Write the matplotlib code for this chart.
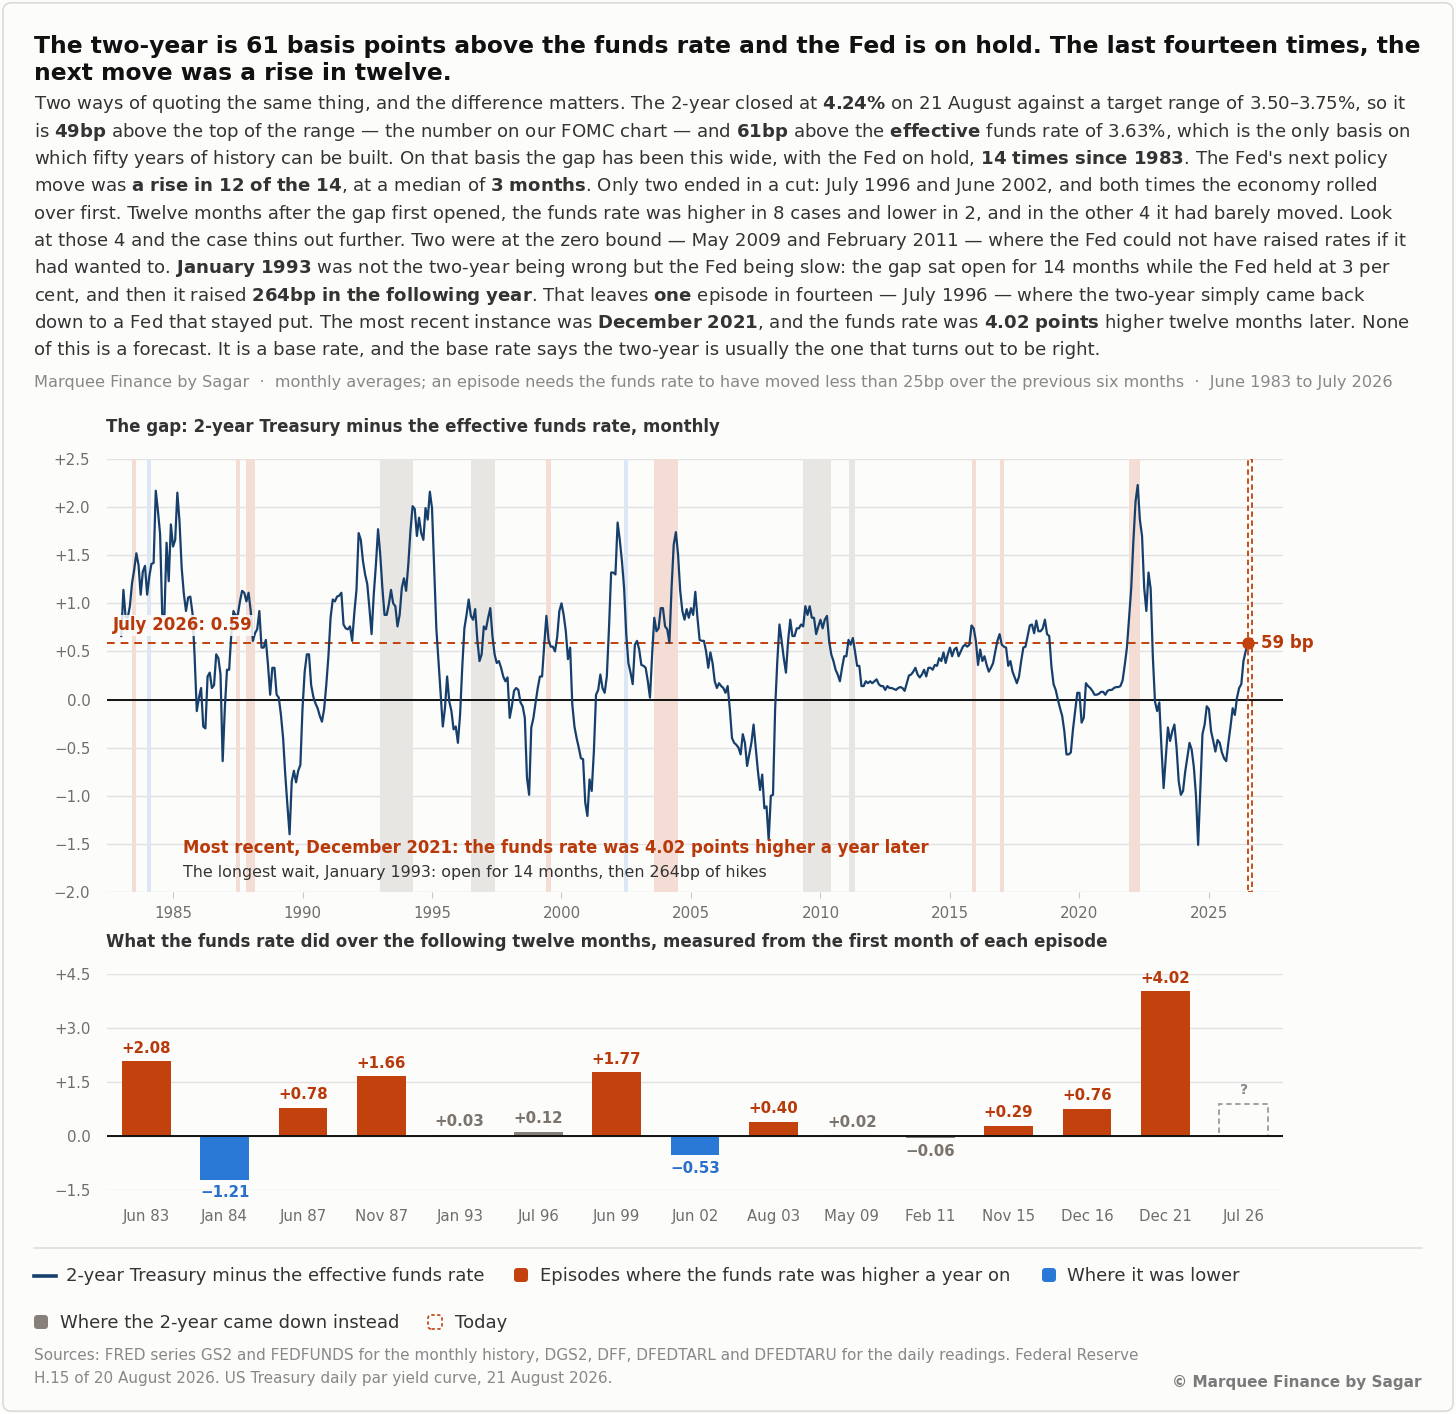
import matplotlib
matplotlib.use("Agg")
import matplotlib.pyplot as plt
import numpy as np
from matplotlib.patches import Rectangle, FancyBboxPatch
from matplotlib.lines import Line2D

plt.rcParams['font.family'] = ['DejaVu Sans']
plt.rcParams['mathtext.fontset'] = 'dejavusans'

W, H, DPI = 1456, 1414, 100

# ---------------- data ----------------
gap_first_year = 1983          # series starts January 1983, monthly
gap_values = [
    0.66, 1.14, 0.86, 0.85, 0.97, 1.21, 1.35, 1.52, 1.40, 1.09, 1.33, 1.39,      # 1983
    1.09, 1.28, 1.41, 1.42, 2.17, 1.96, 1.72, 0.88, 0.87, 1.63, 1.23, 1.82,      # 1984
    1.59, 1.66, 2.15, 1.85, 1.37, 1.10, 0.92, 1.06, 1.07, 0.90, 0.45, -0.12,     # 1985
    0.02, 0.12, -0.28, -0.30, 0.24, 0.28, 0.12, 0.15, 0.47, 0.43, 0.26, -0.64,   # 1986
    -0.09, 0.31, 0.31, 0.68, 0.92, 0.87, 0.88, 1.02, 1.13, 1.11, 1.02, 1.11,     # 1987
    0.92, 0.61, 0.69, 0.73, 0.92, 0.54, 0.54, 0.62, 0.36, 0.05, 0.33, 0.33,      # 1988
    0.05, 0.02, -0.16, -0.40, -0.78, -1.10, -1.40, -0.85, -0.74, -0.86, -0.74, -0.68,  # 1989
    -0.09, 0.29, 0.47, 0.47, 0.15, 0.03, -0.04, -0.09, -0.17, -0.23, -0.10, 0.15,  # 1990
    0.45, 0.85, 1.04, 1.02, 1.07, 1.08, 1.11, 0.78, 0.74, 0.73, 0.76, 0.61,      # 1991
    0.90, 1.14, 1.73, 1.66, 1.44, 1.30, 1.20, 0.95, 0.68, 1.09, 1.40, 1.77,      # 1992
    1.51, 1.16, 0.88, 0.88, 0.99, 1.14, 1.00, 0.97, 0.76, 0.88, 1.16, 1.26,      # 1993
    1.13, 1.40, 1.75, 2.01, 1.98, 1.70, 1.89, 1.73, 1.66, 1.99, 1.87, 2.16,      # 1994
    1.99, 1.35, 0.74, 0.40, 0.05, -0.28, -0.09, 0.24, -0.02, -0.12, -0.31, -0.28,  # 1995
    -0.45, -0.16, 0.33, 0.74, 0.88, 1.04, 0.87, 0.83, 0.94, 0.62, 0.40, 0.47,    # 1996
    0.76, 0.73, 0.85, 0.95, 0.66, 0.47, 0.38, 0.40, 0.33, 0.24, 0.19, 0.23,      # 1997
    -0.19, -0.07, 0.09, 0.12, 0.10, -0.03, -0.07, -0.19, -0.81, -0.99, -0.29, -0.19,  # 1998
    -0.03, 0.12, 0.24, 0.24, 0.57, 0.87, 0.62, 0.55, 0.55, 0.50, 0.65, 0.92,     # 1999
    1.00, 0.88, 0.71, 0.42, 0.54, -0.05, -0.28, -0.40, -0.50, -0.61, -0.62, -1.07,  # 2000
    -1.21, -0.83, -0.95, -0.54, 0.05, 0.10, 0.26, 0.12, 0.07, 0.24, 0.74, 1.32,  # 2001
    1.32, 1.30, 1.84, 1.66, 1.44, 1.16, 0.68, 0.38, 0.28, 0.16, 0.57, 0.61,      # 2002
    0.52, 0.36, 0.35, 0.33, 0.19, 0.02, 0.47, 0.85, 0.71, 0.74, 0.95, 0.95,      # 2003
    0.76, 0.73, 0.59, 1.16, 1.61, 1.74, 1.51, 1.13, 0.92, 0.83, 0.94, 0.85,      # 2004
    0.95, 0.88, 1.12, 0.85, 0.62, 0.61, 0.61, 0.50, 0.33, 0.49, 0.38, 0.19,      # 2005
    0.12, 0.17, 0.14, 0.12, 0.07, 0.14, -0.10, -0.40, -0.45, -0.47, -0.50, -0.57,  # 2006
    -0.36, -0.45, -0.69, -0.57, -0.45, -0.26, -0.50, -0.74, -0.94, -0.78, -1.13, -1.11,  # 2007
    -1.46, -1.00, -0.99, -0.09, 0.40, 0.78, 0.61, 0.43, 0.28, 0.61, 0.83, 0.66,  # 2008
    0.66, 0.74, 0.74, 0.78, 0.76, 0.97, 0.88, 0.97, 0.85, 0.85, 0.68, 0.76,      # 2009
    0.83, 0.74, 0.83, 0.87, 0.61, 0.47, 0.40, 0.31, 0.26, 0.19, 0.33, 0.45,      # 2010
    0.45, 0.62, 0.57, 0.64, 0.50, 0.35, 0.35, 0.14, 0.14, 0.19, 0.17, 0.19,      # 2011
    0.17, 0.19, 0.21, 0.16, 0.14, 0.14, 0.10, 0.14, 0.12, 0.12, 0.11, 0.10,      # 2012
    0.12, 0.13, 0.12, 0.09, 0.17, 0.25, 0.26, 0.29, 0.33, 0.26, 0.23, 0.26,      # 2013
    0.31, 0.24, 0.33, 0.33, 0.31, 0.36, 0.35, 0.43, 0.40, 0.49, 0.38, 0.47,      # 2014
    0.54, 0.45, 0.52, 0.54, 0.45, 0.50, 0.55, 0.57, 0.55, 0.57, 0.77, 0.74,      # 2015
    0.61, 0.36, 0.52, 0.40, 0.45, 0.36, 0.29, 0.33, 0.38, 0.50, 0.61, 0.68,      # 2016
    0.57, 0.55, 0.54, 0.35, 0.40, 0.29, 0.23, 0.17, 0.24, 0.40, 0.54, 0.55,      # 2017
    0.66, 0.77, 0.78, 0.69, 0.82, 0.71, 0.71, 0.74, 0.83, 0.68, 0.66, 0.35,      # 2018
    0.16, 0.10, 0.00, -0.09, -0.17, -0.33, -0.57, -0.57, -0.55, -0.31, -0.12, 0.07,  # 2019
    0.07, -0.24, -0.19, 0.17, 0.14, 0.12, 0.09, 0.05, 0.05, 0.06, 0.08, 0.08,    # 2020
    0.05, 0.09, 0.10, 0.10, 0.12, 0.13, 0.13, 0.14, 0.20, 0.36, 0.54, 0.85,      # 2021
    1.16, 1.65, 2.06, 2.23, 1.87, 1.70, 1.16, 0.92, 1.32, 1.15, 0.45, -0.02,     # 2022
    -0.12, -0.03, -0.50, -0.92, -0.60, -0.29, -0.43, -0.33, -0.26, -0.50, -0.85, -0.99,  # 2023
    -0.95, -0.75, -0.60, -0.45, -0.52, -0.70, -1.00, -1.51, -0.92, -0.36, -0.26, -0.07,  # 2024
    -0.10, -0.33, -0.43, -0.54, -0.42, -0.45, -0.55, -0.61, -0.64, -0.45, -0.28, -0.09,  # 2025
    -0.16, 0.02, 0.12, 0.16, 0.40, 0.50, 0.59,                                   # 2026 (Jan-Jul)
]
current_gap = 0.59

episode_labels = ["Jun 83", "Jan 84", "Jun 87", "Nov 87", "Jan 93", "Jul 96", "Jun 99",
                  "Jun 02", "Aug 03", "May 09", "Feb 11", "Nov 15", "Dec 16", "Dec 21", "Jul 26"]
episode_change = [2.08, -1.21, 0.78, 1.66, 0.03, 0.12, 1.77, -0.53, 0.40, 0.02, -0.06,
                  0.29, 0.76, 4.02, None]
episode_class = ["higher", "lower", "higher", "higher", "flat", "flat", "higher", "lower",
                 "higher", "flat", "flat", "higher", "higher", "higher", "today"]
episode_start_year = [1983, 1984, 1987, 1987, 1993, 1996, 1999, 2002, 2003, 2009, 2011,
                      2015, 2016, 2021, 2026]
episode_start_month = [6, 1, 6, 11, 1, 7, 6, 6, 8, 5, 2, 11, 12, 12, 7]
episode_band_months = [2, 2, 2, 4, 15, 11, 2, 2, 11, 13, 3, 2, 2, 5, 2]
today_placeholder = 0.9

gap_yticks = [2.5, 2.0, 1.5, 1.0, 0.5, 0.0, -0.5, -1.0, -1.5, -2.0]
gap_xticks = [1985, 1990, 1995, 2000, 2005, 2010, 2015, 2020, 2025]
bar_yticks = [4.5, 3.0, 1.5, 0.0, -1.5]

# ---------------- style ----------------
BG = "#FCFCFB"
NAVY = "#173F6B"
RED = "#C2410C"
RED_TXT = "#B83A0B"
BLUE = "#2B79D7"
BLUE_TXT = "#2A6FCC"
GREY = "#87807A"
GREY_TXT = "#7B746D"
BAND = {"higher": "#F3DDD4", "lower": "#DCE7F5", "flat": "#E8E6E3"}
BAR = {"higher": RED, "lower": BLUE, "flat": GREY}
LAB = {"higher": RED_TXT, "lower": BLUE_TXT, "flat": GREY_TXT}
TICK = "#6E6E6E"
GRID = "#E2E2E2"


def fx(px):
    return px / W


def fy(py):
    return 1 - py / H


def fmt(v):
    return f"{v:+.2f}".replace("-", "\u2212")


def fmt1(v):
    s = f"{v:+.1f}" if v != 0 else "0.0"
    return s.replace("-", "\u2212")


fig = plt.figure(figsize=(W / DPI, H / DPI), dpi=DPI, facecolor=BG)

# outer border
fig.add_artist(FancyBboxPatch((0.002, 0.002), 0.996, 0.996, boxstyle="round,pad=0,rounding_size=0.006",
                              transform=fig.transFigure, fill=False, ec="#DADADA", lw=1.2))

# ---------------- header text ----------------
title_lines = ["The two-year is 61 basis points above the funds rate and the Fed is on hold. The last fourteen times, the",
               "next move was a rise in twelve."]
for i, ln in enumerate(title_lines):
    fig.text(fx(34), fy(53 + 27.5 * i), ln, fontsize=16.8, fontweight="bold", color="#111111", va="baseline")


def b(s):
    s = s.replace("%", r"\%").replace(" ", r"\ ")
    return r"$\mathbf{" + s + "}$"


para = [
    "Two ways of quoting the same thing, and the difference matters. The 2-year closed at " + b("4.24%") +
    " on 21 August against a target range of 3.50–3.75%, so it",
    "is " + b("49bp") + " above the top of the range — the number on our FOMC chart — and " + b("61bp") +
    " above the " + b("effective") + " funds rate of 3.63%, which is the only basis on",
    "which fifty years of history can be built. On that basis the gap has been this wide, with the Fed on hold, " +
    b("14 times since 1983") + ". The Fed's next policy",
    "move was " + b("a rise in 12 of the 14") + ", at a median of " + b("3 months") +
    ". Only two ended in a cut: July 1996 and June 2002, and both times the economy rolled",
    "over first. Twelve months after the gap first opened, the funds rate was higher in 8 cases and lower in 2, and in the other 4 it had barely moved. Look",
    "at those 4 and the case thins out further. Two were at the zero bound — May 2009 and February 2011 — where the Fed could not have raised rates if it",
    "had wanted to. " + b("January 1993") +
    " was not the two-year being wrong but the Fed being slow: the gap sat open for 14 months while the Fed held at 3 per",
    "cent, and then it raised " + b("264bp in the following year") + ". That leaves " + b("one") +
    " episode in fourteen — July 1996 — where the two-year simply came back",
    "down to a Fed that stayed put. The most recent instance was " + b("December 2021") +
    ", and the funds rate was " + b("4.02 points") + " higher twelve months later. None",
    "of this is a forecast. It is a base rate, and the base rate says the two-year is usually the one that turns out to be right.",
]
for i, ln in enumerate(para):
    fig.text(fx(34), fy(109.3 + 27.35 * i), ln, fontsize=13.1, color="#333333", va="baseline")

fig.text(fx(34), fy(387), "Marquee Finance by Sagar  ·  monthly averages; an episode needs the funds rate to have moved "
         "less than 25bp over the previous six months  ·  June 1983 to July 2026",
         fontsize=11.6, color="#888888", va="baseline")

fig.text(fx(106), fy(432), "The gap: 2-year Treasury minus the effective funds rate, monthly",
         fontsize=12.0, fontweight="bold", color="#333333", va="baseline")
fig.text(fx(106), fy(947), "What the funds rate did over the following twelve months, measured from the first month of each episode",
         fontsize=12.0, fontweight="bold", color="#333333", va="baseline")

# ---------------- top chart ----------------
ax = fig.add_axes([fx(107), fy(892), (1283 - 107) / W, (892 - 459) / H])
ax.set_facecolor(BG)
t = gap_first_year + np.arange(len(gap_values)) / 12.0
ax.set_xlim(1982.45, 2027.86)
ax.set_ylim(-2.0, 2.5)
for s in ax.spines.values():
    s.set_visible(False)
ax.set_yticks(gap_yticks)
ax.set_yticklabels([fmt1(v) for v in gap_yticks])
ax.set_xticks(gap_xticks)
ax.set_xticklabels([str(v) for v in gap_xticks])
ax.tick_params(axis="y", length=0, labelsize=10.8, labelcolor=TICK, pad=12)
ax.tick_params(axis="x", length=4, color="#C8C8C8", labelsize=10.8, labelcolor=TICK, pad=6)
ax.grid(axis="y", color=GRID, lw=1.0, zorder=0)
ax.set_axisbelow(True)

for ys, ms, nm, cl in zip(episode_start_year, episode_start_month, episode_band_months, episode_class):
    x0 = ys + (ms - 1) / 12.0
    x1 = x0 + nm / 12.0
    if cl == "today":
        ax.add_patch(Rectangle((x0, -2.0), x1 - x0, 4.5, fill=False, ec=RED, lw=1.3,
                               ls=(0, (3, 2)), zorder=3))
    else:
        ax.axvspan(x0, x1, color=BAND[cl], lw=0, zorder=1)

ax.axhline(0, color="#111111", lw=1.4, zorder=2)
ax.plot([1982.45, 2026.9], [current_gap, current_gap], color=RED, lw=1.4, ls=(0, (4, 3)), zorder=3)
ax.plot(t, gap_values, color=NAVY, lw=1.6, zorder=4)
ax.plot([t[-1]], [gap_values[-1]], "o", color=RED, ms=8, zorder=5)
ax.text(2027.0, current_gap, f"{round(current_gap * 100)} bp", color=RED_TXT, fontsize=12,
        fontweight="bold", va="center", ha="left")
ax.text(1982.68, 0.77, f"July 2026: {current_gap:.2f}", color=RED_TXT, fontsize=12, fontweight="bold",
        va="center", ha="left", zorder=6,
        bbox=dict(boxstyle="square,pad=0.1", fc=BG, ec="none", alpha=0.85))
ax.text(1985.39, -1.54, "Most recent, December 2021: the funds rate was 4.02 points higher a year later",
        color=RED_TXT, fontsize=11.9, fontweight="bold", va="center", ha="left", zorder=6)
ax.text(1985.39, -1.80, "The longest wait, January 1993: open for 14 months, then 264bp of hikes",
        color="#333333", fontsize=11.4, va="center", ha="left", zorder=6)

# ---------------- bar chart ----------------
bx = fig.add_axes([fx(107), fy(1190), (1283 - 107) / W, (1190 - 974) / H])
bx.set_facecolor(BG)
for s in bx.spines.values():
    s.set_visible(False)
n = len(episode_labels)
xs = np.arange(n)
bx.set_xlim(-0.5, n - 0.5)
bx.set_ylim(-1.5, 4.5)
bx.set_yticks(bar_yticks)
bx.set_yticklabels([fmt1(v) for v in bar_yticks])
bx.set_xticks(xs)
bx.set_xticklabels(episode_labels)
bx.tick_params(axis="y", length=0, labelsize=10.8, labelcolor=TICK, pad=12)
bx.tick_params(axis="x", length=0, labelsize=10.8, labelcolor=TICK, pad=14)
bx.grid(axis="y", color=GRID, lw=1.0, zorder=0)
bx.set_axisbelow(True)

for x, v, cl in zip(xs, episode_change, episode_class):
    if cl == "today":
        bx.add_patch(Rectangle((x - 0.31, 0), 0.62, today_placeholder, fill=False, ec="#9A9A9A",
                               lw=1.3, ls=(0, (3, 2)), zorder=3))
        bx.annotate("?", (x, today_placeholder), xytext=(0, 5), textcoords="offset points",
                    ha="center", va="bottom", fontsize=10, fontweight="bold", color="#8A8A8A")
        continue
    bx.bar(x, v, width=0.62, color=BAR[cl], zorder=3)
    if v >= 0:
        bx.annotate(fmt(v), (x, v), xytext=(0, 4), textcoords="offset points", ha="center",
                    va="bottom", fontsize=10.8, fontweight="bold", color=LAB[cl])
    else:
        bx.annotate(fmt(v), (x, v), xytext=(0, -4), textcoords="offset points", ha="center",
                    va="top", fontsize=10.8, fontweight="bold", color=LAB[cl], annotation_clip=False)
bx.axhline(0, color="#111111", lw=1.4, zorder=4)

# ---------------- legend ----------------
fig.add_artist(Line2D([fx(34), fx(1422)], [fy(1248), fy(1248)], color="#DDDDDD", lw=1.2))


def swatch(xp, yc, fc, ec=None, ls="-"):
    sz = 14
    fig.add_artist(FancyBboxPatch((xp / DPI, (H - yc - sz / 2) / DPI), sz / DPI, sz / DPI,
                                  boxstyle="round,pad=0,rounding_size=0.035",
                                  transform=fig.dpi_scale_trans,
                                  fc=fc if fc else "none", ec=ec if ec else "none",
                                  lw=1.2, ls=ls))


leg_fs = 13.0
fig.add_artist(Line2D([fx(34), fx(56)], [fy(1276), fy(1276)], color=NAVY, lw=2.6))
fig.text(fx(66), fy(1281), "2-year Treasury minus the effective funds rate", fontsize=leg_fs, color="#333333", va="baseline")
swatch(514, 1275, RED)
fig.text(fx(540), fy(1281), "Episodes where the funds rate was higher a year on", fontsize=leg_fs, color="#333333", va="baseline")
swatch(1042, 1275, BLUE)
fig.text(fx(1067), fy(1281), "Where it was lower", fontsize=leg_fs, color="#333333", va="baseline")
swatch(34, 1322, GREY)
fig.text(fx(60), fy(1328), "Where the 2-year came down instead", fontsize=leg_fs, color="#333333", va="baseline")
swatch(428, 1322, None, ec=RED, ls=(0, (2, 1.5)))
fig.text(fx(455), fy(1328), "Today", fontsize=leg_fs, color="#333333", va="baseline")

fig.text(fx(34), fy(1360), "Sources: FRED series GS2 and FEDFUNDS for the monthly history, DGS2, DFF, DFEDTARL and "
         "DFEDTARU for the daily readings. Federal Reserve", fontsize=11.0, color="#888888", va="baseline")
fig.text(fx(34), fy(1383), "H.15 of 20 August 2026. US Treasury daily par yield curve, 21 August 2026.",
         fontsize=11.0, color="#888888", va="baseline")
fig.text(fx(1422), fy(1387), "© Marquee Finance by Sagar", fontsize=10.95, fontweight="bold",
         color="#7A7A7A", va="baseline", ha="right")

fig.savefig("out.png", dpi=DPI, facecolor=BG)
